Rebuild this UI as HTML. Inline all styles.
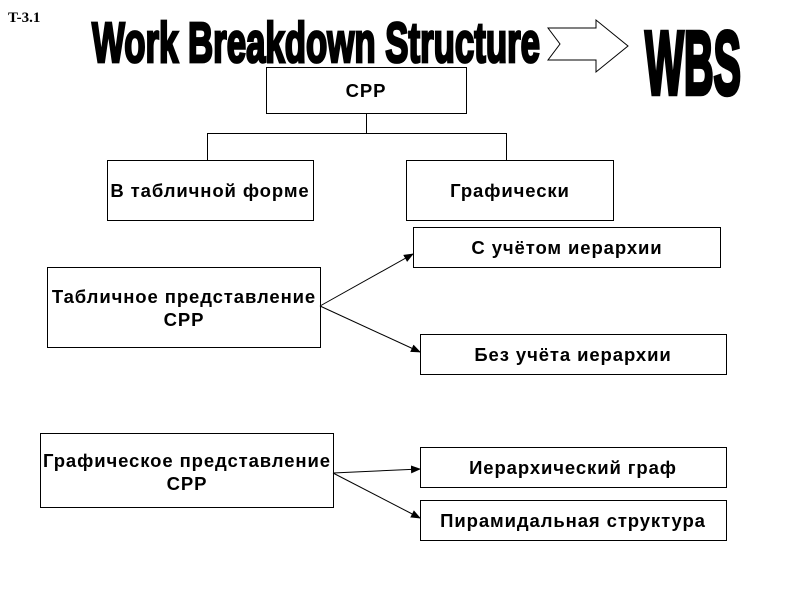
<!DOCTYPE html>
<html><head><meta charset="utf-8"><style>
html,body{margin:0;padding:0;background:#fff;}
svg{display:block;}
</style></head><body>
<svg width="800" height="600" viewBox="0 0 800 600" xmlns="http://www.w3.org/2000/svg">
<defs><marker id="a" markerWidth="10" markerHeight="8" refX="9" refY="4" orient="auto" markerUnits="userSpaceOnUse"><path d="M0,0 L10,4 L0,8 z" fill="#000"/></marker></defs>
<text x="8" y="22" font-family="Liberation Serif, serif" font-weight="bold" font-size="15">T-3.1</text>
<g transform="translate(92,62) scale(1,1.9)"><text x="0" y="0" font-family="Liberation Sans Narrow, Liberation Sans, sans-serif" font-weight="bold" font-size="30" textLength="448" lengthAdjust="spacingAndGlyphs" stroke="#000" stroke-width="1.5">Work Breakdown Structure</text></g>
<path d="M548,28 L596,28 L596,20 L628,46 L596,72 L596,60 L548,60 L560,44 Z" fill="#fff" stroke="#000" stroke-width="1"/>
<g transform="translate(645,94) scale(1,3)"><text x="0" y="0" font-family="Liberation Sans Narrow, Liberation Sans, sans-serif" font-weight="bold" font-size="30" textLength="96" lengthAdjust="spacingAndGlyphs" stroke="#000" stroke-width="1.5">WBS</text></g>
<g fill="#fff" stroke="#000" stroke-width="1">
<rect x="266.5" y="67.5" width="200" height="46"/>
<rect x="107.5" y="160.5" width="206" height="60"/>
<rect x="406.5" y="160.5" width="207" height="60"/>
<rect x="413.5" y="227.5" width="307" height="40"/>
<rect x="47.5" y="267.5" width="273" height="80"/>
<rect x="420.5" y="334.5" width="306" height="40"/>
<rect x="40.5" y="433.5" width="293" height="74"/>
<rect x="420.5" y="447.5" width="306" height="40"/>
<rect x="420.5" y="500.5" width="306" height="40"/>
</g>
<g stroke="#000" stroke-width="1" fill="none">
<path d="M366.5,113 V133.5 M207.5,160 V133.5 H506.5 V160"/>
<line x1="320" y1="306" x2="413" y2="254" marker-end="url(#a)"/>
<line x1="320" y1="306" x2="420" y2="352" marker-end="url(#a)"/>
<line x1="333" y1="473" x2="420" y2="469" marker-end="url(#a)"/>
<line x1="333" y1="473" x2="420" y2="518" marker-end="url(#a)"/>
</g>
<g font-family="Liberation Sans, sans-serif" font-weight="bold" font-size="18.5" letter-spacing="0.9" text-anchor="middle" fill="#000">
<text x="366" y="97">СРР</text>
<text x="210" y="197">В табличной форме</text>
<text x="510" y="197">Графически</text>
<text x="567" y="254">С учётом иерархии</text>
<text x="184" y="303">Табличное представление</text>
<text x="184" y="326">СРР</text>
<text x="573" y="361">Без учёта иерархии</text>
<text x="187" y="467">Графическое представление</text>
<text x="187" y="490">СРР</text>
<text x="573" y="474">Иерархический граф</text>
<text x="573" y="527">Пирамидальная структура</text>
</g>
</svg>
</body></html>
